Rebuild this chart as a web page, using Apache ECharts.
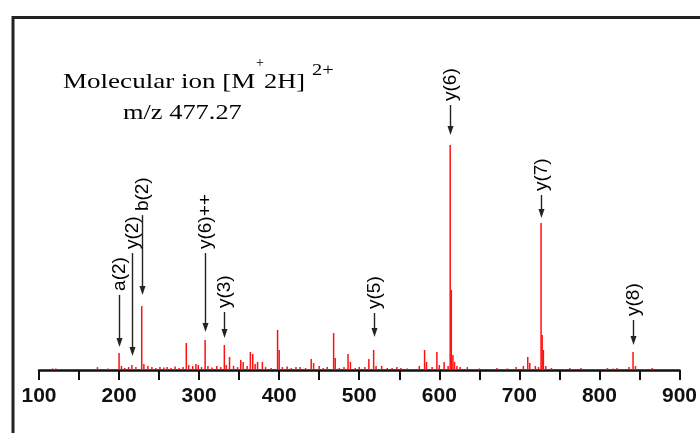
<!DOCTYPE html>
<html>
<head>
<meta charset="utf-8">
<script src="https://cdn.jsdelivr.net/npm/echarts@6/dist/echarts.min.js"></script>
<style>
html,body{margin:0;padding:0;background:#fff;}
#chart{width:700px;height:433px;}
</style>
</head>
<body>
<div id="chart"></div>
<script>
// ---- data ----
var peakMz = [117,121,126,173,186,200,203,207,212,216,221,228.3,231,236,241,246,251,256,260,265,270,275,280,284,287,292,296,299,303,307.5,311,316,322,327,331.5,334,338,343,348,352,355,360,364,367,370,373,379,383,390,398,400,404,410,415,421,426,433,440,443,450,455,460,468,470,475,481,486,489,495,500,507,512,518,521,528,535,541,547,552,560,575,581.6,584,591,597,600,606,611,613.6,615,617,619,622,626,635,650,672,685,696,705,710.5,713,720,724,727.1,728.5,730,733,740,763,777,810,817,822,837,842,845,866];
var peakIntensity = [0.7,0.7,0.5,1.3,0.7,7.6,1.8,0.9,1.3,2.2,1.3,28.4,2.7,1.8,1.3,0.9,1.3,1.1,1.3,0.9,1.6,0.9,1.3,12,2.2,1.8,2.7,2.2,1.3,13.3,1.8,1.1,1.8,1.3,11.1,2.2,5.8,1.8,1.3,4.4,3.6,1.8,8,7.1,2.7,3.6,3.6,1.3,0.9,17.8,8.9,1.3,1.6,0.9,1.3,1.3,0.9,4.9,3.1,1.8,0.9,1.3,16.4,5.3,0.9,1.3,7.1,3.6,0.9,1.3,1.3,4.9,8.9,1.8,1.8,0.9,0.9,1.3,0.9,0.7,1.8,8.9,3.6,1.3,8,2.2,3.6,1.8,100,35.6,6.7,3.6,1.8,1.3,1.3,0.7,0.9,0.7,1.3,1.8,5.8,3.1,1.8,1.3,65.3,15.6,8.9,1.8,0.9,0.9,0.9,0.9,0.7,0.9,1.3,8,1.8,0.9];
var ionLabels = ['a(2)','y(2)','b(2)','y(6)++','y(3)','y(5)','y(6)','y(7)','y(8)'];
var ionMz = [200,216,228.3,307.5,331.5,518,613.6,727.1,842];
var ionIntensity = [7.6,2.2,28.4,13.3,11.1,8.9,100,65.3,8];
var tickLabels = ['100','200','300','400','500','600','700','800','900'];
var titleLine1 = 'Molecular ion [M';
var titleSup1 = '+';
var titleLine1b = '2H]';
var titleSup2 = '2+';
var titleLine2 = 'm/z 477.27';

// ---- annotation layout (pixels): gap above peak, arrow length ----
var annGap = [6,9,11,8,7,13,10,5,7];
var annLen = [52,103,80,79,26,24,30,23,25];

var peakData = peakMz.map(function(m,i){return [m, peakIntensity[i]];});
var annData = ionMz.map(function(m,i){return [m, ionIntensity[i], i];});

var chart = echarts.init(document.getElementById('chart'), null, {renderer:'canvas'});
var serifFont = '"Liberation Serif","Times New Roman",serif';
var option = {
  backgroundColor:'#fff',
  animation:false,
  grid:{left:39, right:15, top:145, bottom:63, containLabel:false},
  xAxis:{
    type:'value', min:100, max:900, interval:100,
    axisLine:{show:true, lineStyle:{color:'#111', width:2.5}},
    axisTick:{show:true, length:10, lineStyle:{color:'#111', width:2}},
    minorTick:{show:true, splitNumber:2, length:10, lineStyle:{color:'#111', width:2}},
    splitLine:{show:false},
    axisLabel:{
      margin:16, color:'#111', fontSize:21, fontWeight:'bold',
      fontFamily:'"Liberation Sans",Arial,sans-serif',
      showMaxLabel:true, showMinLabel:true,
      formatter:function(v){var i=Math.round((v-100)/100);return tickLabels[i]!==undefined?tickLabels[i]:'';}
    }
  },
  yAxis:{type:'value', min:0, max:100, show:false},
  series:[
    {
      type:'bar', data:peakData, barWidth:1.5, barGap:'-100%',
      itemStyle:{color:'#ff1010'}, silent:true, z:2
    },
    {
      type:'custom', data:annData, silent:true, z:5, clip:false,
      encode:{x:0, y:1},
      renderItem:function(params, api){
        var idx = api.value(2);
        var p = api.coord([api.value(0), api.value(1)]);
        var x = Math.round(p[0]) + 0.5;
        var tip = p[1] - annGap[idx];
        var tail = tip - annLen[idx];
        return {
          type:'group',
          children:[
            {type:'line', shape:{x1:x, y1:tail, x2:x, y2:tip-7}, style:{stroke:'#222', lineWidth:1.4}},
            {type:'polygon', shape:{points:[[x-3,tip-9],[x+3,tip-9],[x,tip]]}, style:{fill:'#222'}},
            {type:'text', x:x, y:tail-4, rotation:Math.PI/2,
             style:{text:ionLabels[idx], fill:'#000', fontSize:19,
                    fontFamily:'"Liberation Sans",Arial,sans-serif',
                    align:'left', verticalAlign:'middle'}}
          ]
        };
      }
    }
  ],
  graphic:[
    {type:'rect', silent:true, shape:{x:13, y:17.5, width:800, height:500},
     style:{fill:'none', stroke:'#222', lineWidth:3}},
    {type:'text', x:63, y:82, scaleX:1.23, silent:true,
     style:{text:titleLine1, fill:'#000', font:'22px '+serifFont, verticalAlign:'middle', align:'left'}},
    {type:'text', x:256, y:63, silent:true,
     style:{text:titleSup1, fill:'#000', font:'14px '+serifFont, verticalAlign:'middle', align:'left'}},
    {type:'text', x:264, y:82, scaleX:1.2, silent:true,
     style:{text:titleLine1b, fill:'#000', font:'22px '+serifFont, verticalAlign:'middle', align:'left'}},
    {type:'text', x:312, y:71, scaleX:1.2, silent:true,
     style:{text:titleSup2, fill:'#000', font:'17px '+serifFont, verticalAlign:'middle', align:'left'}},
    {type:'text', x:123, y:113, scaleX:1.2, silent:true,
     style:{text:titleLine2, fill:'#000', font:'22px '+serifFont, verticalAlign:'middle', align:'left'}}
  ]
};
chart.setOption(option);
</script>
</body>
</html>
